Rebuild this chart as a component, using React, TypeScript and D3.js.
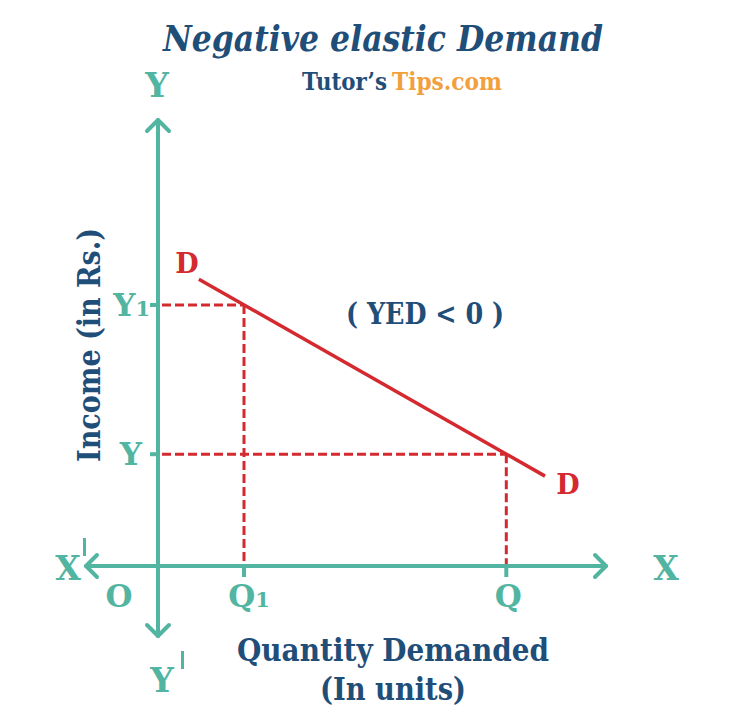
import React from "react";
import * as d3 from "d3";

// ---- data ----
const demandQuantity = [0.95, 9.0]; // D line end points (quantity)
const demandIncome = [6.67, 2.09]; // D line end points (income)
const markQuantity = [2, 8.1];
const markIncome = [6.07, 2.6];
const quantityLabels = ["Q", "Q"];
const quantitySubs = ["1", ""];
const incomeLabels = ["Y", "Y"];
const incomeSubs = ["1", ""];

const W = 741;
const H = 719;
const TEAL = "#52b5a1";
const BLUE = "#1f4e79";
const RED = "#d42a2f";
const ORANGE = "#f2a03d";
const SERIF = "'DejaVu Serif', 'Liberation Serif', serif";

export default function App() {
  const x = d3.scaleLinear().domain([0, 10]).range([158, 588]);
  const y = d3.scaleLinear().domain([0, 10]).range([566, 136]);
  const x0 = x(0);
  const y0 = y(0);

  const line = d3
    .line<number>()
    .x((_, i) => x(demandQuantity[i]))
    .y((d) => y(d));

  const axisTop = 120;
  const axisBottom = 636;
  const axisLeft = 86;
  const axisRight = 606;
  const ah = 11;

  return (
    <svg
      width={W}
      height={H}
      style={{ position: "absolute", left: 0, top: 0, background: "#fff" }}
      fontFamily={SERIF}
    >
      <rect width={W} height={H} fill="#fff" />
      {/* title */}
      <text
        x={383}
        y={51}
        textAnchor="middle"
        fontSize={35}
        fontStyle="italic"
        fontWeight="bold"
        fill={BLUE}
        textLength={440}
        lengthAdjust="spacingAndGlyphs"
      >
        Negative elastic Demand
      </text>
      <text x={302} y={90} fontSize={25} fontWeight="bold" fill={BLUE} textLength={85} lengthAdjust="spacingAndGlyphs">
        Tutor’s
      </text>
      <text x={392} y={90} fontSize={25} fontWeight="bold" fill={ORANGE} textLength={110} lengthAdjust="spacingAndGlyphs">
        Tips.com
      </text>

      {/* axes */}
      <g stroke={TEAL} strokeWidth={4} fill="none" strokeLinecap="round" strokeLinejoin="round">
        <line x1={x0} y1={axisTop} x2={x0} y2={axisBottom} />
        <line x1={axisLeft} y1={y0} x2={axisRight} y2={y0} />
        <polyline points={`${x0 - ah},${axisTop + ah} ${x0},${axisTop} ${x0 + ah},${axisTop + ah}`} />
        <polyline points={`${x0 - ah},${axisBottom - ah} ${x0},${axisBottom} ${x0 + ah},${axisBottom - ah}`} />
        <polyline points={`${axisLeft + ah},${y0 - ah} ${axisLeft},${y0} ${axisLeft + ah},${y0 + ah}`} />
        <polyline points={`${axisRight - ah},${y0 - ah} ${axisRight},${y0} ${axisRight - ah},${y0 + ah}`} />
        {markQuantity.map((q, i) => (
          <line key={"tq" + i} x1={x(q)} y1={y0} x2={x(q)} y2={y0 + 11} strokeLinecap="butt" />
        ))}
        {markIncome.map((v, i) => (
          <line key={"ty" + i} x1={x0 - 8} y1={y(v)} x2={x0} y2={y(v)} strokeLinecap="butt" />
        ))}
      </g>

      {/* dashed guides */}
      <g stroke={RED} strokeWidth={3} strokeDasharray="9,4" fill="none">
        {markQuantity.map((q, i) => (
          <g key={"g" + i}>
            <line x1={x0 + 4} y1={y(markIncome[i])} x2={x(q)} y2={y(markIncome[i])} />
            <line x1={x(q)} y1={y(markIncome[i])} x2={x(q)} y2={y0 - 2} />
          </g>
        ))}
      </g>

      {/* demand line */}
      <path d={line(demandIncome) || ""} stroke={RED} strokeWidth={3.5} fill="none" />
      <text x={187} y={273} textAnchor="middle" fontSize={27} fontWeight="bold" fill={RED}>
        D
      </text>
      <text x={568} y={494} textAnchor="middle" fontSize={27} fontWeight="bold" fill={RED}>
        D
      </text>

      <text x={425} y={324} textAnchor="middle" fontSize={29} fontWeight="bold" fill={BLUE} textLength={158} lengthAdjust="spacingAndGlyphs">
        ( YED &lt; 0 )
      </text>

      {/* axis labels teal */}
      <g fill={TEAL} fontWeight="bold">
        <text x={157} y={97} textAnchor="middle" fontSize={33}>Y</text>
        <text x={666} y={580} textAnchor="middle" fontSize={33}>X</text>
        <text x={68} y={580} textAnchor="middle" fontSize={33}>X</text>
        <rect x={83} y={538} width={3} height={18} />
        <text x={162} y={692} textAnchor="middle" fontSize={33}>Y</text>
        <rect x={181} y={651} width={3} height={18} />
        <text x={119} y={607} textAnchor="middle" fontSize={31}>O</text>
        {markQuantity.map((q, i) => (
          <text key={"lq" + i} x={x(q) + (quantitySubs[i] ? 5 : 2)} y={607} textAnchor="middle" fontSize={31}>
            {quantityLabels[i]}
            {quantitySubs[i] ? <tspan fontSize={21}>{quantitySubs[i]}</tspan> : null}
          </text>
        ))}
        {markIncome.map((v, i) => (
          <text key={"ly" + i} x={incomeSubs[i] ? 150 : 142} y={y(v) + 11} textAnchor="end" fontSize={31}>
            {incomeLabels[i]}
            {incomeSubs[i] ? <tspan fontSize={21}>{incomeSubs[i]}</tspan> : null}
          </text>
        ))}
      </g>

      {/* axis titles */}
      <text
        transform="translate(100,345) rotate(-90)"
        textAnchor="middle"
        fontSize={31}
        fontWeight="bold"
        fill={BLUE}
        textLength={234}
        lengthAdjust="spacingAndGlyphs"
      >
        Income (in Rs.)
      </text>
      <text x={393} y={661} textAnchor="middle" fontSize={31} fontWeight="bold" fill={BLUE} textLength={312} lengthAdjust="spacingAndGlyphs">
        Quantity Demanded
      </text>
      <text x={393} y={700} textAnchor="middle" fontSize={31} fontWeight="bold" fill={BLUE} textLength={146} lengthAdjust="spacingAndGlyphs">
        (In units)
      </text>
    </svg>
  );
}
